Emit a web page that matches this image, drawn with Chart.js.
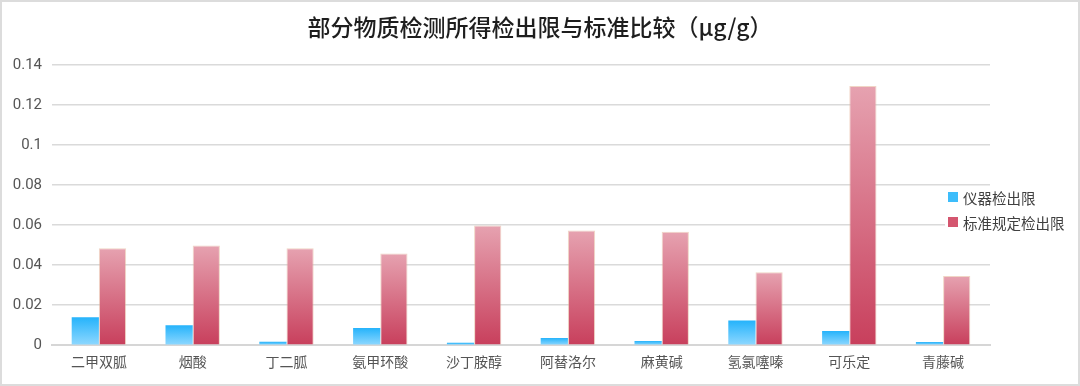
<!DOCTYPE html>
<html>
<head>
<meta charset="utf-8">
<script src="https://cdn.jsdelivr.net/npm/chart.js@4.4.1/dist/chart.umd.min.js"></script>
<style>
  html, body { margin: 0; padding: 0; background: #ffffff; }
  #wrap { width: 1080px; height: 386px; position: relative; }
</style>
</head>
<body>
<div id="wrap"><canvas id="c" width="1080" height="386"></canvas></div>
<script>
const chartTitle = '部分物质检测所得检出限与标准比较（μg/g）';
const categories = ['二甲双胍', '烟酸', '丁二胍', '氨甲环酸', '沙丁胺醇', '阿替洛尔', '麻黄碱', '氢氯噻嗪', '可乐定', '青藤碱'];
const seriesNames = ['仪器检出限', '标准规定检出限'];
const instrumentLimit = [0.014, 0.010, 0.0017, 0.0086, 0.0012, 0.0036, 0.0021, 0.0123, 0.0071, 0.0016];
const standardLimit = [0.0485, 0.0498, 0.0485, 0.0458, 0.0598, 0.0573, 0.0567, 0.0364, 0.1295, 0.0346];
const yTicks = [0, 0.02, 0.04, 0.06, 0.08, 0.1, 0.12, 0.14];

const FONT = '"Noto Sans CJK SC", "Noto Sans", sans-serif';

function barGradient(ctx, top, bottom) {
  const chart = ctx.chart;
  const ys = chart.scales && chart.scales.y;
  if (!chart.chartArea || !ys || ctx.type !== 'data') return bottom;
  const yTop = ys.getPixelForValue(ctx.parsed.y);
  const yBase = ys.getPixelForValue(0);
  if (!isFinite(yTop) || !isFinite(yBase) || Math.abs(yBase - yTop) < 0.5) return bottom;
  const g = chart.ctx.createLinearGradient(0, yTop, 0, yBase);
  g.addColorStop(0, top);
  g.addColorStop(1, bottom);
  return g;
}

const framePlugin = {
  id: 'frame',
  beforeDraw(chart) {
    const c = chart.ctx;
    c.save();
    c.fillStyle = '#ffffff';
    c.fillRect(0, 0, chart.width, chart.height);
    c.restore();
  },
  afterDraw(chart) {
    const c = chart.ctx;
    c.save();
    c.strokeStyle = '#dcdcdc';
    c.lineWidth = 2;
    c.strokeRect(1, 1, chart.width - 2, chart.height - 2);
    // title centred on the whole picture
    c.font = '500 23px ' + FONT;
    c.fillStyle = '#1e1e1e';
    c.textAlign = 'center';
    c.textBaseline = 'middle';
    c.fillText(chartTitle, chart.width / 2, 27);
    // legend overlapping right edge of plot
    const items = [
      { text: seriesNames[0], color: '#3dbdfb' },
      { text: seriesNames[1], color: '#d4566f' }
    ];
    const x0 = 948, y0 = 197, gap = 25;
    c.font = '14.5px ' + FONT;
    c.textBaseline = 'middle';
    c.textAlign = 'left';
    items.forEach((it, i) => {
      const y = y0 + i * gap;
      const w = c.measureText(it.text).width;
      c.fillStyle = '#ffffff';
      c.fillRect(x0 - 3, y - 9, w + 20, 18);
      c.fillStyle = it.color;
      c.fillRect(x0, y - 5, 10, 10);
      c.fillStyle = '#404040';
      c.fillText(it.text, x0 + 15, y + 1);
    });
    c.restore();
  }
};

new Chart(document.getElementById('c'), {
  type: 'bar',
  data: {
    labels: categories,
    datasets: [
      {
        label: seriesNames[0],
        data: instrumentLimit,
        backgroundColor: (ctx) => barGradient(ctx, '#25b3fb', '#8fd8ff'),
        borderWidth: 0,
        categoryPercentage: 0.58,
        barPercentage: 1.0
      },
      {
        label: seriesNames[1],
        data: standardLimit,
        backgroundColor: (ctx) => barGradient(ctx, '#e6a2b0', '#c83f5c'),
        borderColor: 'rgba(228,178,150,0.55)',
        borderWidth: 1,
        borderSkipped: 'bottom',
        categoryPercentage: 0.58,
        barPercentage: 1.0
      }
    ]
  },
  options: {
    responsive: false,
    animation: false,
    devicePixelRatio: 1,
    layout: { padding: { left: 10, right: 90, top: 65, bottom: 8 } },
    plugins: {
      legend: { display: false },
      tooltip: { enabled: false },
      title: { display: false }
    },
    scales: {
      x: {
        grid: { display: false, drawTicks: false },
        border: { display: true, color: '#d6d6d6', width: 2 },
        ticks: { color: '#555555', font: { family: FONT, size: 14 }, padding: 8, maxRotation: 0 }
      },
      y: {
        min: 0,
        max: 0.14,
        afterBuildTicks: (axis) => { axis.ticks = yTicks.map(v => ({ value: v })); },
        afterFit: (axis) => { axis.width = 42; },
        grid: { color: '#dadada', lineWidth: 1.5, drawTicks: false },
        border: { display: false },
        ticks: {
          color: '#555555',
          font: { family: 'Roboto, "Noto Sans", sans-serif', size: 15 },
          padding: 10,
          callback: (v) => String(Number(v.toFixed(2)))
        }
      }
    }
  },
  plugins: [framePlugin]
});
</script>
</body>
</html>
